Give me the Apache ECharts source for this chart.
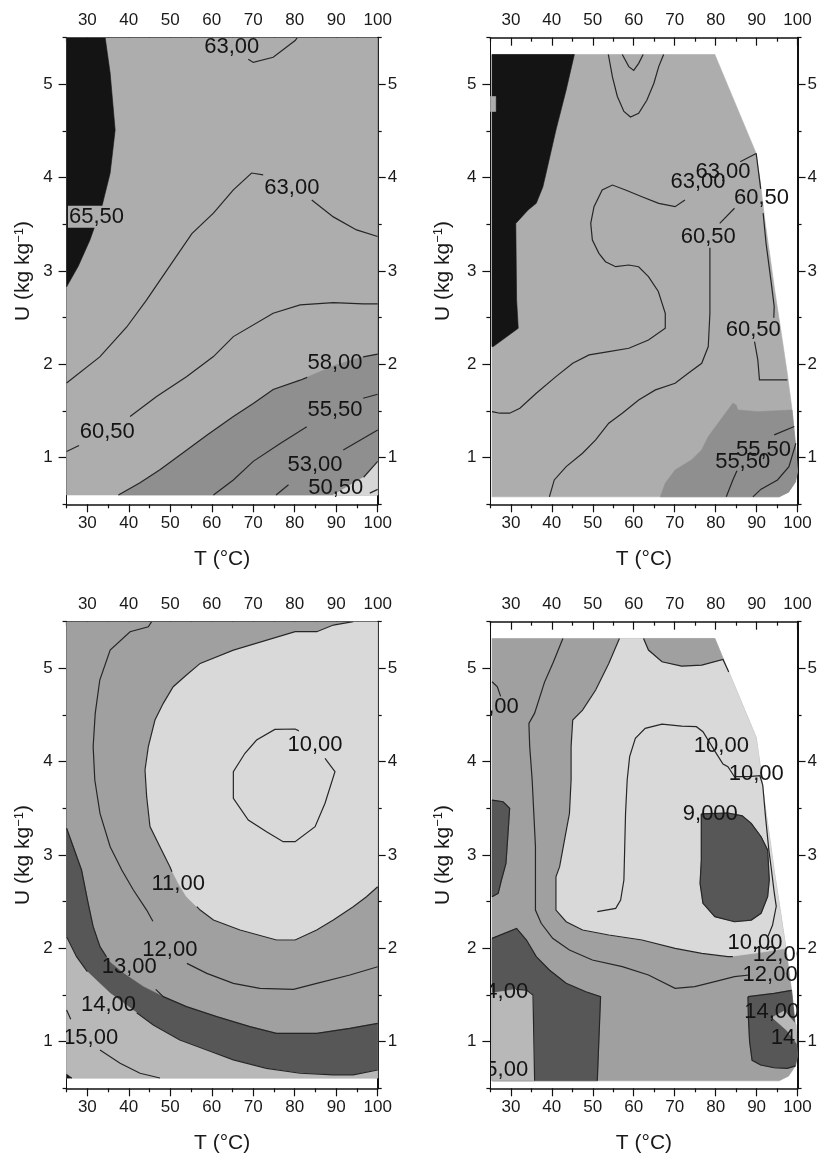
<!DOCTYPE html>
<html><head><meta charset="utf-8">
<script src="https://cdn.jsdelivr.net/npm/echarts@6/dist/echarts.min.js"></script>
<style>html,body{margin:0;padding:0;background:#fff}#c{width:820px;height:1162px}</style>
</head><body><div id="c"></div>
<script>
// ---------- axis ticks ----------
const T_MAJOR = [30,40,50,60,70,80,90,100];
const T_MINOR = [25,35,45,55,65,75,85,95];
const U_MAJOR = [1,2,3,4,5];
const U_MINOR = [0.5,1.5,2.5,3.5,4.5,5.5];

// ---------- shared right edge of experimental domain (panels b, d) ----------
const rightEdge = [[79.8,5.32],[89.9,4.26],[90.9,3.95],[92.0,3.55],[93.3,3.15],[94.4,2.8],[95.8,2.4],[97.5,1.9],[98.7,1.5],[99.6,1.1],[99.96,0.85],[99.5,0.74],[97.8,0.63],[95.5,0.58]];
const leftBottomB = [[25.4,0.58],[25.4,5.32]];

// ---------- Panel a (top-left) ----------
const aDomain = [[25,0.6],[100,0.6],[100,5.5],[25,5.5]];
const aBlack = [[25,5.5],[34.3,5.5],[35.5,5.12],[36.7,4.51],[35.5,4.05],[33.5,3.69],[30.6,3.33],[27.8,3.05],[25,2.83]];
const aBand = [[37.5,0.6],[42.7,0.73],[47.5,0.87],[53.9,1.08],[58.8,1.24],[65.2,1.44],[70.0,1.58],[74.8,1.73],[81.3,1.83],[84.5,1.89],[89.7,1.99],[96.5,2.08],[100,2.11],[100,0.6]];
const aLight = [[89.3,0.6],[96.6,0.79],[100,0.96],[100,0.6]];
const aLines = [
  [[68.8,5.27],[70.0,5.235],[74.8,5.29],[80.1,5.47],[80.6,5.5]],
  [[25,1.80],[33.0,2.08],[39.5,2.40],[44.3,2.69],[47.5,2.90],[55.2,3.40],[60.4,3.62],[65.2,3.87],[69.6,4.05],[72.4,4.03]],
  [[84.1,3.76],[89.3,3.58],[94.9,3.44],[100,3.37]],
  [[25,1.065],[28.0,1.13]],
  [[40.3,1.44],[46.7,1.654],[53.9,1.868],[60.4,2.083],[65.2,2.297],[74.8,2.547],[81.3,2.636],[89.3,2.661],[96.5,2.647],[100,2.647]],
  [[37.5,0.6],[42.7,0.73],[47.5,0.87],[53.9,1.08],[58.8,1.24],[65.2,1.44],[70.0,1.58],[74.8,1.73],[81.3,1.83],[83.0,1.86]],
  [[96.5,2.08],[100,2.11]],
  [[60.4,0.6],[65.2,0.76],[70.0,0.96],[76.4,1.15],[82.9,1.33]],
  [[96.5,1.636],[100,1.679]],
  [[75.5,0.6],[78.5,0.71]],
  [[91.7,1.083],[100,1.297]],
  [[96.6,0.79],[100,0.96]],
  [[98.1,0.62],[100,0.66]]
];
const aLabelPos = [[64.8,5.40],[79.3,3.89],[32.2,3.58],[34.8,1.279],[89.7,2.018],[89.7,1.511],[84.9,0.922],[89.9,0.672]];
const aLabelText = ['63,00','63,00','65,50','60,50','58,00','55,50','53,00','50,50'];

// ---------- Panel b (top-right) ----------
const bBlack = [[25.4,5.32],[45.5,5.32],[43.5,4.94],[41.0,4.51],[38.6,4.05],[37.8,3.90],[36.2,3.725],[34.2,3.653],[31.2,3.51],[31.4,2.69],[31.8,2.386],[25.7,2.19],[25.4,2.19]];
const bSquare = [[25.0,4.87],[26.3,4.87],[26.3,4.71],[25.0,4.71]];
const bDark = [[66.5,0.58],[67.7,0.726],[70.1,0.868],[74.1,0.976],[76.6,1.083],[78.2,1.226],[80.6,1.369],[83.0,1.511],[84.2,1.583],[85.0,1.565],[85.4,1.511],[90.3,1.493],[98.65,1.51]];
const bLines = [
  [[53.8,5.32],[54.8,5.08],[56.0,4.87],[57.6,4.71],[59.2,4.65],[61.2,4.69],[63.2,4.83],[64.9,5.01],[66.1,5.19],[67.3,5.32]],
  [[57.2,5.32],[58.8,5.19],[60.0,5.15],[61.2,5.225],[62.3,5.32]],
  [[25.4,1.493],[27.3,1.476],[29.7,1.476],[32.2,1.529],[36.2,1.69],[41.0,1.868],[45.1,2.011],[49.1,2.101],[53.9,2.136],[58.8,2.172],[63.6,2.261],[67.7,2.386],[67.7,2.547],[66.0,2.78],[63.6,2.939],[61.2,3.046],[58.8,3.064],[55.6,3.046],[53.1,3.10],[51.5,3.189],[49.9,3.332],[49.5,3.511],[50.3,3.689],[52.3,3.868],[54.8,3.921],[58.0,3.868],[62.0,3.796],[66.1,3.725],[70.1,3.689],[72.5,3.76]],
  [[86.0,4.17],[89.9,4.26]],
  [[39.4,0.58],[40.6,0.761],[43.5,0.904],[47.5,1.047],[50.7,1.19],[53.9,1.369],[57.2,1.476],[61.2,1.618],[65.3,1.726],[70.1,1.797],[73.3,1.904],[76.6,2.011],[78.2,2.19],[78.6,2.547],[78.6,2.975],[78.6,3.25]],
  [[81.0,3.511],[84.6,3.672]],
  [[89.9,4.26],[91.0,3.88]],
  [[91.6,3.62],[92.3,3.3],[93.5,2.9],[94.3,2.62],[94.2,2.5]],
  [[89.5,2.243],[90.3,2.047],[90.7,1.833],[93.5,1.833],[97.5,1.833]],
  [[82.6,0.58],[84.2,0.761],[85.2,0.86]],
  [[89.1,0.58],[91.1,0.662],[95.1,0.761],[97.9,0.904],[99.6,1.154]],
  [[94.3,1.244],[99.2,1.333]]
];
const bLabelPos = [[75.7,3.957],[81.8,4.064],[78.2,3.368],[91.2,3.779],[89.2,2.368],[91.7,1.083],[86.6,0.958]];
const bLabelText = ['63,00','63,00','60,50','60,50','60,50','55,50','55,50'];

// ---------- Panel c (bottom-left) ----------
const cDomain = [[25,0.61],[100,0.61],[100,5.5],[25,5.5]];
const cLight = [[100,5.5],[94.1,5.5],[89.3,5.464],[85.3,5.393],[80.1,5.393],[65.2,5.196],[57.2,5.053],[53.9,4.928],[50.7,4.803],[48.3,4.625],[46.3,4.446],[44.7,4.161],[43.9,3.911],[44.3,3.625],[45.1,3.304],[47.5,3.089],[49.9,2.875],[51.9,2.70],[53.9,2.553],[57.2,2.41],[60.4,2.303],[66.8,2.196],[75.6,2.089],[80.1,2.089],[85.3,2.196],[89.3,2.303],[94.1,2.446],[97.3,2.553],[100,2.66]];
const c13 = [[25,3.286],[26.6,3.089],[28.6,2.839],[30.2,2.482],[31.4,2.232],[33.05,2.018],[35.5,1.85],[38.7,1.732],[43.5,1.589],[48.3,1.482],[53.9,1.375],[61.2,1.268],[69.2,1.161],[75.6,1.089],[85.3,1.089],[93.3,1.143],[100,1.196]];
const c14 = [[25,2.125],[27.4,1.91],[30.0,1.75],[35.5,1.518],[41.9,1.31],[45.9,1.178],[52.3,1.018],[58.8,0.911],[65.2,0.804],[73.2,0.714],[81.3,0.661],[89.3,0.643],[94.1,0.643],[100,0.696]];
const cSpeck = [[25,0.61],[25,0.65],[26.3,0.61]];
const cLines = [
  [[94.1,5.5],[89.3,5.464],[85.3,5.393],[80.1,5.393],[65.2,5.196],[57.2,5.053],[53.9,4.928],[50.7,4.803],[48.3,4.625],[46.3,4.446],[44.7,4.161],[43.9,3.911],[44.3,3.625],[45.1,3.304],[47.5,3.089],[49.9,2.875],[50.4,2.82]],
  [[56.4,2.446],[57.2,2.41],[60.4,2.303],[66.8,2.196],[75.6,2.089],[80.1,2.089],[85.3,2.196],[89.3,2.303],[94.1,2.446],[97.3,2.553],[100,2.66]],
  [[45.5,5.5],[44.7,5.446],[40.3,5.393],[35.5,5.196],[33.0,4.875],[31.9,4.518],[31.4,4.161],[31.8,3.804],[33.05,3.446],[35.5,3.089],[38.3,2.839],[41.1,2.625],[44.3,2.41],[45.8,2.29]],
  [[54.0,1.839],[58.8,1.732],[65.2,1.625],[71.6,1.571],[79.7,1.561],[85.3,1.625],[93.3,1.714],[100,1.803]],
  [[25,3.286],[26.6,3.089],[28.6,2.839],[30.2,2.482],[31.4,2.232],[33.05,2.018],[34.6,1.91]],
  [[46.5,1.56],[48.3,1.482],[53.9,1.375],[61.2,1.268],[69.2,1.161],[75.6,1.089],[85.3,1.089],[93.3,1.143],[100,1.196]],
  [[25,2.125],[27.4,1.91],[30.0,1.75]],
  [[41.9,1.31],[45.9,1.178],[52.3,1.018],[58.8,0.911],[65.2,0.804],[73.2,0.714],[81.3,0.661],[89.3,0.643],[94.1,0.643],[100,0.696]],
  [[25,1.339],[26.0,1.24]],
  [[33.05,0.911],[37.9,0.768],[42.7,0.661],[47.5,0.61]],
  [[87.3,4.036],[89.7,3.893],[87.3,3.554],[84.9,3.304],[80.1,3.143],[77.2,3.143],[73.2,3.25],[68.8,3.375],[65.2,3.607],[65.2,3.893],[68.0,4.09],[70.8,4.232],[75.2,4.346],[80.1,4.35],[81.0,4.33]]
];
const cLabelPos = [[51.9,2.69],[49.9,1.982],[40.1,1.796],[35.1,1.393],[30.8,1.036],[84.9,4.178]];
const cLabelText = ['11,00','12,00','13,00','14,00','15,00','10,00'];

// ---------- Panel d (bottom-right) ----------
const dLightPath = [[56.5,5.32],[53.9,5.053],[50.7,4.768],[47.5,4.553],[45.1,4.446],[44.7,4.161],[44.7,3.804],[44.3,3.446],[43.1,3.161],[41.9,2.875],[41.0,2.767],[41.0,2.41],[43.5,2.285],[47.5,2.196],[53.9,2.143],[62.0,2.089],[70.1,2.0],[76.6,1.946],[83.0,1.911],[89.9,1.95],[94.3,1.98],[97.16,2.0]];
const dBump = [[62.4,5.32],[63.6,5.196],[66.9,5.071],[71.7,5.025],[76.6,5.035],[81.9,5.096],[79.8,5.32]];
const d9 = [[76.5,3.44],[83.0,3.45],[86.5,3.42],[88.7,3.339],[91.1,3.196],[92.7,3.054],[93.1,2.732],[92.7,2.553],[91.1,2.375],[88.7,2.303],[84.6,2.285],[79.8,2.339],[76.9,2.482],[76.2,2.696],[76.5,2.946]];
const dDarkL = [[25.4,3.589],[28.1,3.571],[29.7,3.5],[29.3,3.232],[28.8,2.911],[27.7,2.732],[26.9,2.589],[25.4,2.553]];
const dDark14 = [[25.4,2.107],[31.4,2.214],[33.8,2.089],[36.2,1.911],[39.4,1.768],[43.5,1.625],[48.3,1.535],[51.9,1.482],[51.1,0.58],[25.4,0.58]];
const dPaleLL = [[25.4,1.52],[31.0,1.56],[33.8,1.553],[35.4,1.5],[35.8,0.58],[25.4,0.58]];
const dDarkRTop = [[87.9,1.482],[94.3,1.518],[98.55,1.55]];
const dDarkRBottom = [[97.5,0.714],[94.3,0.72],[91.0,0.75],[88.9,0.8],[88.3,1.0],[88.0,1.25]];
const dStripe = [[93.8,1.26],[96.8,1.33],[99.7,1.18],[99.8,0.98],[97.4,1.12]];
const dLines = [
  [[25.4,4.857],[26.7,4.803],[27.5,4.70]],
  [[42.7,5.32],[40.3,5.06],[38.2,4.85],[35.8,4.52],[34.4,4.41],[34.6,4.161],[35.2,3.804],[35.6,3.446],[36.0,3.089],[36.0,2.803],[36.0,2.41],[37.4,2.268],[40.2,2.107],[44.3,1.982],[49.9,1.875],[57.2,1.803],[63.6,1.714],[70.1,1.571],[74.9,1.589],[79.8,1.643],[84.6,1.696],[88.2,1.714]],
  [[56.5,5.32],[53.9,5.053],[50.7,4.768],[47.5,4.553],[45.1,4.446],[44.7,4.161],[44.7,3.804],[44.3,3.446],[43.1,3.161],[41.9,2.875],[41.0,2.767],[41.0,2.41],[43.5,2.285],[47.5,2.196],[53.9,2.143],[62.0,2.089],[70.1,2.0],[76.6,1.946],[83.0,1.911],[84.2,1.91]],
  [[62.4,5.32],[63.6,5.196],[66.9,5.071],[71.7,5.025],[76.6,5.035],[81.8,5.096],[83.2,4.96]],
  [[51.1,2.393],[55.6,2.428],[56.8,2.518],[57.6,2.732],[57.8,3.089],[58.0,3.446],[58.4,3.804],[59.0,4.054],[60.4,4.25],[62.8,4.357],[66.9,4.403],[71.7,4.382],[75.3,4.375],[76.9,4.321],[80.0,4.1],[81.8,3.975],[83.0,3.946],[84.6,3.839],[88.0,3.84],[90.8,3.85],[91.5,3.75],[92.2,3.4],[93.0,3.05],[93.6,2.85],[94.3,2.6],[94.8,2.45],[93.9,2.25],[92.8,2.13]],
  [[76.5,3.44],[83.0,3.45],[86.5,3.42],[88.7,3.339],[91.1,3.196],[92.7,3.054],[93.1,2.732],[92.7,2.553],[91.1,2.375],[88.7,2.303],[84.6,2.285],[79.8,2.339],[76.9,2.482],[76.2,2.696],[76.5,2.946],[76.5,3.44]],
  [[25.4,3.589],[28.1,3.571],[29.7,3.5],[29.3,3.232],[28.8,2.911],[27.7,2.732],[26.9,2.589],[25.4,2.553]],
  [[25.4,2.107],[31.4,2.214],[33.8,2.089],[36.2,1.911],[39.4,1.768],[43.5,1.625],[48.3,1.535],[51.9,1.482],[51.1,0.58]],
  [[31.3,1.56],[33.8,1.553],[35.4,1.5],[35.8,0.58]],
  [[87.9,1.482],[94.3,1.518],[98.55,1.55]],
  [[87.9,1.482],[88.0,1.25],[88.3,1.0],[88.9,0.8],[91.0,0.75],[94.3,0.72],[97.5,0.714],[99.5,0.74]]
];
const dLabelPos = [[25.2,4.59],[81.4,4.171],[89.9,3.868],[78.7,3.436],[89.6,2.053],[95.8,1.929],[93.3,1.714],[93.7,1.321],[100.2,1.04],[27.5,1.535],[27.5,0.70]];
const dLabelText = ['12,00','10,00','10,00','9,000','10,00','12,00','12,00','14,00','14,00','14,00','15,00'];

// ---------- styling ----------
const FONT = '"Liberation Sans", Arial, Helvetica, sans-serif';
const C = {
  black:'#141414', gA:'#adadad', gAdark:'#8f8f8f', gAlight:'#d6d6d6',
  light:'#d9d9d9', mid:'#a0a0a0', dark:'#575757', pale:'#b8b8b8',
  line:'#262626', text:'#141414', axis:'#111', tick:'#1a1a1a'
};
const Fill = (pts, color) => ({kind:'fill', pts, color});
const Ln = pts => ({kind:'line', pts});
const Lbl = (at, text, bg) => ({kind:'label', at, text, bg});
const labels = (pos, txt, bgIdx, bg) => pos.map((p,i) => Lbl(p, txt[i], bgIdx === i ? bg : null));

const bDomain = leftBottomB.concat(rightEdge);
const shapesA = [Fill(aDomain,C.gA), Fill(aBlack,C.black), Fill(aBand,C.gAdark), Fill(aLight,C.gAlight),
  ...aLines.map(Ln), ...labels(aLabelPos,aLabelText,2,C.gA)];
const shapesB = [Fill(bDomain,C.gA), Fill(bBlack,C.black), Fill(bSquare,C.gA),
  Fill(bDark.concat(rightEdge.filter(p=>p[1]<1.5)), C.gAdark),
  ...bLines.map(Ln), ...labels(bLabelPos,bLabelText)];
const shapesC = [Fill(cDomain,C.mid), Fill(cLight,C.light),
  Fill(c13.concat(c14.slice().reverse()), C.dark),
  Fill(c14.concat([[100,0.61],[25,0.61]]), C.pale), Fill(cSpeck,C.black),
  ...cLines.map(Ln), ...labels(cLabelPos,cLabelText)];
const shapesD = [Fill(bDomain,C.mid),
  Fill(dLightPath.concat(rightEdge.filter(p=>p[1]>2.0).reverse()), C.light),
  Fill(dBump,C.mid), Fill(d9,C.dark), Fill(dDarkL,C.dark), Fill(dDark14,C.dark), Fill(dPaleLL,C.pale),
  Fill(dDarkRTop.concat(rightEdge.filter(p=>p[1]<1.5 && p[1]>0.7), dDarkRBottom), C.dark),
  Fill(dStripe,C.pale),
  ...dLines.map(Ln), ...labels(dLabelPos,dLabelText)];

function contourSeries(gi, shapes){
  return {
    type:'custom', xAxisIndex:gi*4, yAxisIndex:gi*4, clip:true, silent:true,
    data: shapes.map((s,i)=>[i]),
    renderItem(params, api){
      const s = shapes[params.dataIndex];
      if (s.kind === 'fill') {
        return {type:'polygon', shape:{points:s.pts.map(p=>api.coord(p))}, style:{fill:s.color, stroke:s.color, lineWidth:0.6}};
      }
      if (s.kind === 'line') {
        return {type:'polyline', shape:{points:s.pts.map(p=>api.coord(p))}, style:{stroke:C.line, lineWidth:1.2, fill:null}};
      }
      const c = api.coord(s.at);
      const st = {text:s.text, fill:C.text, fontSize:22, fontFamily:FONT, align:'center', verticalAlign:'middle'};
      if (s.bg) { st.backgroundColor = s.bg; st.padding = [0,1]; }
      return {type:'text', x:c[0], y:c[1], style:st};
    }
  };
}

const grids = [
  {left:66.6, top:37.7, width:311.1, height:466.6},
  {left:490.4, top:37.7, width:309.6, height:466.6},
  {left:66.6, top:621.7, width:311.1, height:466.6},
  {left:490.4, top:621.7, width:309.6, height:466.6}
];

function xAx(gi, pos, major){
  return {
    type:'value', gridIndex:gi, position:pos, min:25, max:100,
    splitLine:{show:false},
    axisLine:{show:major, onZero:false, lineStyle:{color:C.axis, width:1.5}},
    axisTick:{show:true, inside:pos==='top', length:major?8:4, customValues:major?T_MAJOR:T_MINOR, lineStyle:{color:C.axis, width:1.2}},
    axisLabel:{show:major, customValues:T_MAJOR, margin:pos==='top'?9:11, color:C.tick, fontSize:17, fontFamily:FONT},
    name:(major && pos==='bottom') ? 'T (°C)' : '', nameLocation:'middle', nameGap:44,
    nameTextStyle:{fontSize:21, color:C.tick, fontFamily:FONT}
  };
}
function yAx(gi, pos, major){
  return {
    type:'value', gridIndex:gi, position:pos, min:0.5, max:5.5,
    splitLine:{show:false},
    axisLine:{show:major, onZero:false, lineStyle:{color:C.axis, width:pos==='right'?2:1}},
    axisTick:{show:true, inside:false, length:major?8:4, customValues:major?U_MAJOR:U_MINOR, lineStyle:{color:C.axis, width:1.2}},
    axisLabel:{show:major, customValues:U_MAJOR, margin:pos==='left'?14:10, color:C.tick, fontSize:17, fontFamily:FONT},
    name:(major && pos==='left') ? 'U (kg kg{sup|−1})' : '', nameLocation:'middle', nameGap:gi%2===0?33:37,
    nameTextStyle:{fontSize:21, color:C.tick, fontFamily:FONT, rich:{sup:{fontSize:13, color:C.tick, fontFamily:FONT, verticalAlign:'top'}}}
  };
}

const xAxes = [], yAxes = [];
for (let g=0; g<4; g++){
  xAxes.push(xAx(g,'bottom',true), xAx(g,'bottom',false), xAx(g,'top',true), xAx(g,'top',false));
  yAxes.push(yAx(g,'left',true), yAx(g,'left',false), yAx(g,'right',true), yAx(g,'right',false));
}

const chart = echarts.init(document.getElementById('c'), null, {renderer:'canvas'});
chart.setOption({
  animation:false,
  backgroundColor:'#fff',
  grid:grids,
  xAxis:xAxes,
  yAxis:yAxes,
  series:[contourSeries(0,shapesA), contourSeries(1,shapesB), contourSeries(2,shapesC), contourSeries(3,shapesD)]
});
</script></body></html>
